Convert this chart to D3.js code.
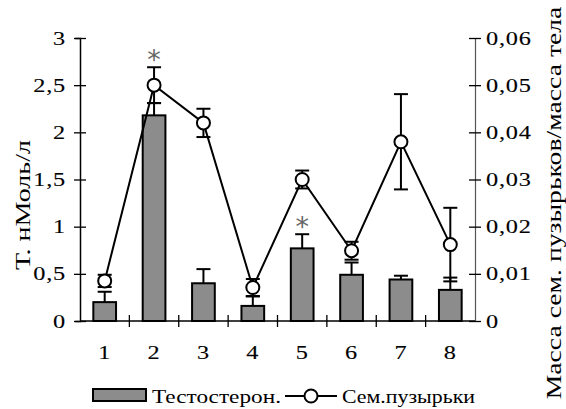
<!DOCTYPE html>
<html>
<head>
<meta charset="utf-8">
<script src="https://cdn.jsdelivr.net/npm/d3@7"></script>
<style>
  html, body { margin: 0; padding: 0; background: #fff; }
  svg { display: block; }
</style>
</head>
<body>
<svg id="chart" width="566" height="409"></svg>
<script>
// Group labels on the x axis
const categories = ["1", "2", "3", "4", "5", "6", "7", "8"];

// Testosterone, nmol/L (bars, left axis) and its error
const testosterone    = [0.20, 2.18, 0.40, 0.16, 0.77, 0.49, 0.44, 0.33];
const testosteroneErr = [0.11, 0.13, 0.15, 0.10, 0.15, 0.13, 0.04, 0.13];

// Seminal vesicle mass / body mass (line, right axis) and its error
const vesicles    = [0.0085, 0.050, 0.042, 0.0071, 0.030, 0.0149, 0.038, 0.0162];
const vesiclesErr = [0.0013, 0.0038, 0.003, 0.0018, 0.0019, 0.0019, 0.0101, 0.0078];

// Tick values for both value axes
const leftTicks  = [0, 0.5, 1, 1.5, 2, 2.5, 3];
const rightTicks = [0, 0.01, 0.02, 0.03, 0.04, 0.05, 0.06];

// Significance marks: group and the series they sit above
const significant = [
  { cat: "2", over: "vesicles" },
  { cat: "5", over: "testosterone" }
];

const leftTitle   = "Т. нМоль/л";
const rightTitle  = "Масса сем. пузырьков/масса тела";
const legendBar   = "Тестостерон.";
const legendLine  = "Сем.пузырьки";

const comma = d => String(d).replace(".", ",");
const FONT = "'Liberation Serif', serif";

const svg = d3.select("#chart");
const L = 80, R = 475, T = 38, B = 321;

const cat = d3.scaleBand().domain(categories).range([L, R]).padding(0);
const x = d3.scaleBand().domain(categories).range([L, R])
  .paddingInner(0.54).paddingOuter(0.27);
const yL = d3.scaleLinear().domain([0, 3]).range([B, T]);
const yR = d3.scaleLinear().domain([0, 0.06]).range([B, T]);

// Wide serif digits for tick labels
const DIGIT_SX = 1.35;
function styleDigits(sel) {
  sel.style("font-family", FONT).style("font-size", "18px")
    .attr("fill", "#000").attr("stroke", "#000").attr("stroke-width", 0.12)
    .style("letter-spacing", "0.6px");
}

// Stretch a text along its own direction to a given length
function fitLength(sel, len) {
  sel.each(function () {
    const w = this.getComputedTextLength();
    const t = d3.select(this);
    const base = t.attr("transform") || "";
    t.attr("transform", `${base} scale(${len / w},1)`);
  });
}

// ----- bars -----
svg.append("g").selectAll("rect").data(categories).join("rect")
  .attr("x", d => x(d))
  .attr("y", (d, i) => yL(testosterone[i]))
  .attr("width", x.bandwidth())
  .attr("height", (d, i) => yL(0) - yL(testosterone[i]))
  .attr("fill", "#8c8c8c")
  .attr("stroke", "#000")
  .attr("stroke-width", 2);

// bar error bars (upward only)
const cap = 14;
const barErr = svg.append("g").attr("stroke", "#000").attr("stroke-width", 2);
categories.forEach((c, i) => {
  const cx = x(c) + x.bandwidth() / 2;
  const y0 = yL(testosterone[i]), y1 = yL(testosterone[i] + testosteroneErr[i]);
  barErr.append("line").attr("x1", cx).attr("x2", cx).attr("y1", y0).attr("y2", y1);
  barErr.append("line").attr("x1", cx - cap / 2).attr("x2", cx + cap / 2).attr("y1", y1).attr("y2", y1);
});

// ----- axes -----
const axL = svg.append("g").attr("transform", `translate(${L},0)`)
  .call(d3.axisLeft(yL).tickValues(leftTicks).tickFormat(comma).tickSizeOuter(0).tickSize(5).tickPadding(9));
axL.attr("font-family", null);
axL.select(".domain").attr("stroke", "#000").attr("stroke-width", 1.5);
axL.selectAll(".tick line").attr("x1", 6).attr("x2", -6).attr("stroke-width", 1.3);
axL.selectAll(".tick text")
  .attr("x", 0).attr("dy", null).attr("y", 6)
  .attr("transform", `translate(-14,0) scale(${DIGIT_SX},1)`)
  .call(styleDigits);

const axR = svg.append("g").attr("transform", `translate(${R},0)`)
  .call(d3.axisRight(yR).tickValues(rightTicks).tickFormat(comma).tickSizeOuter(0).tickSize(5).tickPadding(6));
axR.attr("font-family", null);
axR.select(".domain").attr("stroke", "#555").attr("stroke-width", 1.2);
axR.selectAll(".tick line").attr("x1", -6).attr("x2", 6).attr("stroke-width", 1.3);
axR.selectAll(".tick text")
  .attr("x", 0).attr("dy", null).attr("y", 6)
  .attr("transform", `translate(11,0) scale(${DIGIT_SX},1)`)
  .call(styleDigits);

// x axis: baseline with crossing ticks at group boundaries, labels at centres
const axX = svg.append("g");
axX.append("line").attr("x1", L).attr("x2", R).attr("y1", B).attr("y2", B)
  .attr("stroke", "#000").attr("stroke-width", 1.5);
categories.slice(1).forEach(c => {
  axX.append("line").attr("x1", cat(c)).attr("x2", cat(c)).attr("y1", B - 6).attr("y2", B + 6)
    .attr("stroke", "#000").attr("stroke-width", 1.3);
});
axX.selectAll("text").data(categories).join("text")
  .attr("x", 0).attr("y", 0)
  .attr("transform", d => `translate(${cat(d) + cat.bandwidth() / 2},359) scale(${DIGIT_SX},1)`)
  .attr("text-anchor", "middle")
  .text(d => d)
  .call(styleDigits);

// ----- line series -----
const px = c => cat(c) + cat.bandwidth() / 2;
const lineErr = svg.append("g").attr("stroke", "#000").attr("stroke-width", 2);
categories.forEach((c, i) => {
  const cx = px(c);
  const y1 = yR(vesicles[i] + vesiclesErr[i]), y2 = yR(vesicles[i] - vesiclesErr[i]);
  lineErr.append("line").attr("x1", cx).attr("x2", cx).attr("y1", y1).attr("y2", y2);
  lineErr.append("line").attr("x1", cx - cap / 2).attr("x2", cx + cap / 2).attr("y1", y1).attr("y2", y1);
  lineErr.append("line").attr("x1", cx - cap / 2).attr("x2", cx + cap / 2).attr("y1", y2).attr("y2", y2);
});

svg.append("path")
  .datum(categories)
  .attr("fill", "none").attr("stroke", "#000").attr("stroke-width", 2)
  .attr("d", d3.line().x(d => px(d)).y((d, i) => yR(vesicles[i])));

svg.append("g").selectAll("circle").data(categories).join("circle")
  .attr("cx", d => px(d))
  .attr("cy", (d, i) => yR(vesicles[i]))
  .attr("r", 6.5)
  .attr("fill", "#fff").attr("stroke", "#000").attr("stroke-width", 2);

// ----- significance asterisks -----
svg.append("g").selectAll("text").data(significant).join("text")
  .attr("x", d => px(d.cat))
  .attr("y", d => {
    const i = categories.indexOf(d.cat);
    const top = d.over === "vesicles"
      ? yR(vesicles[i] + vesiclesErr[i])
      : yL(testosterone[i] + testosteroneErr[i]);
    return top + 1.5;
  })
  .attr("text-anchor", "middle")
  .style("font-family", "'DejaVu Sans', sans-serif").style("font-size", "27px")
  .attr("fill", "#666")
  .text("*");

// ----- axis titles -----
svg.append("text")
  .attr("transform", "translate(30,205) rotate(-90)")
  .attr("text-anchor", "middle")
  .style("font-family", FONT).style("font-size", "20px")
  .attr("fill", "#000")
  .text(leftTitle)
  .call(fitLength, 130);

svg.append("text")
  .attr("transform", "translate(561,203) rotate(-90)")
  .attr("text-anchor", "middle")
  .style("font-family", FONT).style("font-size", "20px")
  .attr("fill", "#000")
  .text(rightTitle)
  .call(fitLength, 393);

// ----- legend -----
const lg = svg.append("g");
lg.append("rect").attr("x", 93).attr("y", 389).attr("width", 53).attr("height", 12)
  .attr("fill", "#8c8c8c").attr("stroke", "#000").attr("stroke-width", 2);
lg.append("text").attr("x", 0).attr("y", 0)
  .attr("transform", "translate(152,403)")
  .style("font-family", FONT).style("font-size", "19px")
  .text(legendBar)
  .call(fitLength, 129);
lg.append("line").attr("x1", 285).attr("x2", 337).attr("y1", 396).attr("y2", 396)
  .attr("stroke", "#000").attr("stroke-width", 2);
lg.append("circle").attr("cx", 311).attr("cy", 396).attr("r", 6.5)
  .attr("fill", "#fff").attr("stroke", "#000").attr("stroke-width", 2);
lg.append("text").attr("x", 0).attr("y", 0)
  .attr("transform", "translate(342,403)")
  .style("font-family", FONT).style("font-size", "19px")
  .text(legendLine)
  .call(fitLength, 133);
</script>
</body>
</html>
